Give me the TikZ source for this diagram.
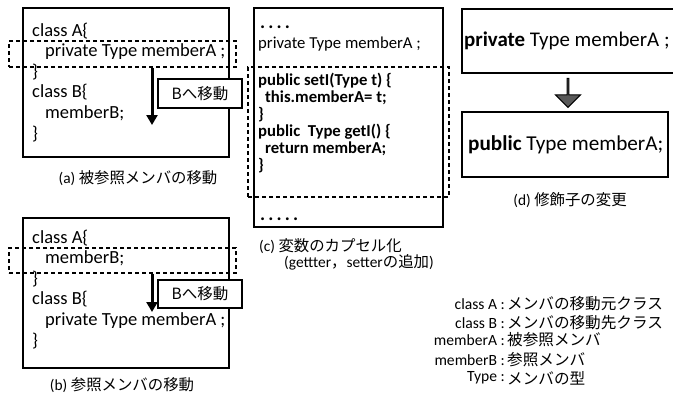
\documentclass[tikz,border=0pt]{standalone}
\usepackage{fontspec}
\setmainfont{Carlito}
\newfontfamily\jpfont{Noto Sans CJK JP}
\newcommand{\jp}[1]{{\jpfont #1}}
\usetikzlibrary{arrows.meta,shapes.arrows}

\tikzset{
  box/.style={draw, line width=1.6pt, inner sep=0pt},
  selbox/.style={draw, line width=1.6pt, dash pattern=on 4pt off 3pt, inner sep=0pt},
  movelabel/.style={draw, fill=white, line width=1.6pt, inner sep=0pt, font=\jpfont\fontsize{15.5}{18}\selectfont},
  movearrow/.style={line width=3pt, -{Triangle[width=11pt,length=10pt]}},
  code/.style={anchor=north west, inner sep=0pt, align=left, font=\fontsize{18.5}{20.6}\selectfont},
  smallcode/.style={anchor=west, inner sep=0pt, align=left, font=\fontsize{16.7}{16.9}\selectfont},
  dots/.style={anchor=west, inner sep=0pt, font=\bfseries\fontsize{19}{20}\selectfont},
  caption/.style={inner sep=0pt, font=\fontsize{15.4}{17}\selectfont},
  legend/.style={inner sep=0pt, font=\fontsize{15.6}{17}\selectfont}
}

\begin{document}
\begin{tikzpicture}[x=1pt, y=-1pt]
\useasboundingbox (0,0) rectangle (673,399);

% (a) moving the referenced member
\node [box, minimum width=206pt, minimum height=149pt] (boxA) at (126,82.5) {};
\node [code] (codeA) at (32,22.5) {class A\{\\ \hspace*{13pt}private Type memberA ;\\ \}\\ class B\{\\ \hspace*{13pt}memberB;\\ \}};
\node [selbox, minimum width=227pt, minimum height=26pt] (selA) at (122.5,54) {};
\coordinate (tipA) at (152,125);
\draw [movearrow] (selA.south -| tipA) -- (tipA);
\node [movelabel, minimum width=84pt, minimum height=29pt] (moveA) at (200,93.5) {Bへ移動};
\node [caption] (capA) at (138,178) {(a) \jp{被参照メンバの移動}};

% (b) moving the referencing member
\node [box, minimum width=206pt, minimum height=150pt] (boxB) at (126,293) {};
\node [code] (codeB) at (32,229.5) {class A\{\\ \hspace*{13pt}memberB;\\ \}\\ class B\{\\ \hspace*{13pt}private Type memberA ;\\ \}};
\node [selbox, minimum width=227pt, minimum height=25pt] (selB) at (122.5,260.5) {};
\coordinate (tipB) at (152,312);
\draw [movearrow] (selB.south -| tipB) -- (tipB);
\node [movelabel, minimum width=84pt, minimum height=28pt] (moveB) at (200,294) {Bへ移動};
\node [caption] (capB) at (122,385) {(b) \jp{参照メンバの移動}};

% (c) encapsulating the field
\node [box, minimum width=189pt, minimum height=219pt] (boxC) at (348.5,117.5) {};
\node [dots] (headC) at (260,27) {.\,.\,.\,.};
\node [smallcode] (fieldC) at (258,44) {private Type memberA ;};
\node [smallcode, anchor=north west, font=\bfseries\fontsize{16.7}{16.9}\selectfont] (bodyC) at (258,73) {public setI(Type t) \{\\ \hspace*{7pt}this.memberA= t;\\ \}\\ public\ \ Type getI() \{\\ \hspace*{7pt}return memberA;\\ \}};
\node [dots] (tailC) at (260,219) {.\,.\,.\,.\,.};
\node [selbox, minimum width=201pt, minimum height=130pt] (selC) at (348.5,132) {};
\node [caption, anchor=west] (capC) at (259,246) {(c) \jp{変数のカプセル化}};
\node [caption, anchor=west] (capC2) at (284,262) {(gettter\jp{，}setter\jp{の追加})};

% (d) changing the modifier
\node [box, minimum width=214pt, minimum height=64pt] (boxP) at (569,41) {};
\node [inner sep=0pt, anchor=west, font=\fontsize{20.9}{24}\selectfont] (textP) at (464,41) {\textbf{private} Type memberA ;};
\node [box, minimum width=206pt, minimum height=65pt] (boxQ) at (565,144.5) {};
\node [inner sep=0pt, anchor=west, font=\fontsize{21.2}{24}\selectfont] (textQ) at (468,145) {\textbf{public} Type memberA;};
\node [single arrow, shape border rotate=270, draw, line width=1pt, fill=black!65,
       minimum height=29pt, minimum width=25pt, single arrow head extend=6.5pt, inner sep=0pt] (turn) at (568,92.5) {};
\node [caption] (capD) at (570,200) {(d) \jp{修飾子の変更}};

% legend
\node [legend, anchor=east] (keyA) at (505,304) {class A :};
\node [legend, anchor=west] (valA) at (507,304) {\jp{メンバの移動元クラス}};
\node [legend, anchor=east] (keyB) at (505,323) {class B :};
\node [legend, anchor=west] (valB) at (507,323) {\jp{メンバの移動先クラス}};
\node [legend, anchor=east] (keyMA) at (505,340) {memberA :};
\node [legend, anchor=west] (valMA) at (507,340) {\jp{被参照メンバ}};
\node [legend, anchor=east] (keyMB) at (505,360) {memberB :};
\node [legend, anchor=west] (valMB) at (507,360) {\jp{参照メンバ}};
\node [legend, anchor=east] (keyT) at (505,378) {Type :};
\node [legend, anchor=west] (valT) at (507,378) {\jp{メンバの型}};
\end{tikzpicture}
\end{document}
